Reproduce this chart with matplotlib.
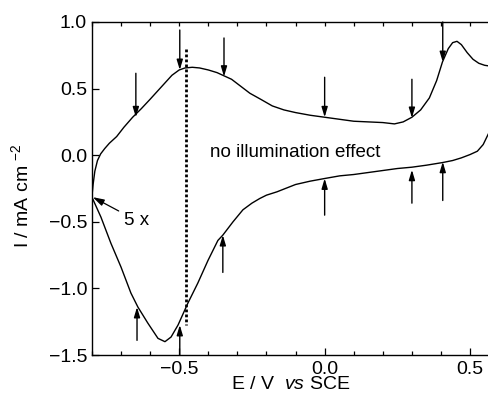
import matplotlib
matplotlib.use('Agg')
import matplotlib.pyplot as plt
from matplotlib.ticker import MultipleLocator

plt.rcParams['font.family'] = ['Liberation Sans', 'DejaVu Sans']
plt.rcParams['mathtext.fontset'] = 'custom'
plt.rcParams['mathtext.rm'] = 'Liberation Sans'
plt.rcParams['mathtext.it'] = 'Liberation Sans:italic'

# anodic (forward) scan
E_fwd = [-0.800, -0.796, -0.790, -0.781, -0.770, -0.756, -0.740, -0.715, -0.690, -0.660,
         -0.630, -0.600, -0.575, -0.550, -0.525, -0.500, -0.480, -0.455, -0.430,
         -0.400, -0.370, -0.350, -0.320, -0.290, -0.257, -0.220, -0.180, -0.140,
         -0.100, -0.050, 0.000, 0.050, 0.100, 0.150, 0.200, 0.240, 0.270, 0.300,
         0.330, 0.360, 0.385, 0.405, 0.425, 0.440, 0.455, 0.470, 0.490, 0.510,
         0.530, 0.550, 0.565]
I_fwd = [-0.31, -0.22, -0.12, -0.04, 0.01, 0.05, 0.09, 0.14, 0.21, 0.285,
         0.35, 0.42, 0.48, 0.54, 0.60, 0.64, 0.655, 0.66, 0.655,
         0.64, 0.62, 0.60, 0.57, 0.52, 0.465, 0.42, 0.37, 0.34,
         0.32, 0.30, 0.285, 0.27, 0.255, 0.25, 0.245, 0.235, 0.25, 0.285,
         0.34, 0.43, 0.56, 0.70, 0.80, 0.845, 0.855, 0.83, 0.77, 0.72,
         0.69, 0.675, 0.67]

# cathodic (reverse) scan
E_rev = [0.565, 0.545, 0.525, 0.500, 0.470, 0.440, 0.406, 0.350, 0.300, 0.250,
         0.200, 0.150, 0.100, 0.052, 0.000, -0.050, -0.100, -0.135, -0.164,
         -0.200, -0.223, -0.250, -0.281, -0.315, -0.350, -0.367, -0.401, -0.436,
         -0.470, -0.504, -0.528, -0.549, -0.573, -0.608, -0.642, -0.666, -0.700,
         -0.735, -0.769, -0.800]
I_rev = [0.17, 0.08, 0.03, 0.005, -0.02, -0.04, -0.055, -0.075, -0.09, -0.10,
         -0.115, -0.13, -0.145, -0.155, -0.175, -0.195, -0.22, -0.25, -0.275,
         -0.30, -0.325, -0.36, -0.41, -0.50, -0.60, -0.64, -0.79, -0.96,
         -1.11, -1.275, -1.365, -1.40, -1.375, -1.26, -1.14, -1.035, -0.84,
         -0.66, -0.465, -0.315]

# illumination arrows: (E, tail, tip)
down_E = [-0.649, -0.498, -0.346, 0.0, 0.30, 0.406]
down_tail = [0.615, 0.94, 0.88, 0.585, 0.57, 1.0]
down_tip = [0.285, 0.64, 0.59, 0.285, 0.28, 0.70]
up_E = [-0.645, -0.498, -0.35, 0.0, 0.30, 0.406]
up_tail = [-1.39, -1.5, -0.88, -0.45, -0.36, -0.34]
up_tip = [-1.14, -1.275, -0.60, -0.175, -0.11, -0.05]

fig = plt.figure(figsize=(4.89, 4.0), dpi=100)
ax = fig.add_axes([0.188, 0.1125, 0.812, 0.8325])

ax.plot(E_fwd, I_fwd, color='k', lw=1.0)
ax.plot(E_rev, I_rev, color='k', lw=1.0)

ax.plot([-0.477, -0.477], [0.80, -1.275], color='k', lw=2.0, ls=(0, (1, 0.8)))

arr = dict(arrowstyle='-|>,head_width=0.18,head_length=0.6', color='k', lw=1.0,
           shrinkA=0, shrinkB=0)
for e, t0, t1 in zip(down_E, down_tail, down_tip):
    ax.annotate('', xy=(e, t1), xytext=(e, t0), arrowprops=arr)
for e, t0, t1 in zip(up_E, up_tail, up_tip):
    ax.annotate('', xy=(e, t1), xytext=(e, t0), arrowprops=arr)

ax.annotate('5 x', xy=(-0.797, -0.315), xytext=(-0.69, -0.49),
            fontsize=13.5, va='center', ha='left',
            arrowprops=dict(arrowstyle='-|>,head_width=0.15,head_length=0.5',
                            color='k', lw=0.9, shrinkA=2, shrinkB=0))
ax.text(-0.394, 0.02, 'no illumination effect', fontsize=13.5, va='center', ha='left')

ax.set_xlim(-0.8, 0.565)
ax.set_ylim(-1.5, 1.0)
ax.xaxis.set_major_locator(MultipleLocator(0.5))
ax.xaxis.set_minor_locator(MultipleLocator(0.1))
ax.yaxis.set_major_locator(MultipleLocator(0.5))
ax.tick_params(axis='x', which='both', direction='in', top=True, labelsize=14, pad=4)
ax.tick_params(axis='x', which='major', length=5, width=0.9)
ax.tick_params(axis='x', which='minor', length=3, width=0.9)
ax.tick_params(axis='y', which='major', direction='in', length=5, width=0.9,
               labelsize=14, right=False)
for tk in ax.xaxis.get_major_ticks():
    tk.tick2line.set_markersize(3)
ax.spines['right'].set_visible(False)
for s in ['left', 'top', 'bottom']:
    ax.spines[s].set_linewidth(1.0)

ax.set_xlabel(r'E / V  $\mathit{vs}$ SCE', fontsize=14, labelpad=-1)
ax.set_ylabel(r'I / mA cm $^{-2}$', fontsize=14)
ax.yaxis.set_label_coords(-0.15, 0.48)

fig.savefig('out.png', dpi=100)
